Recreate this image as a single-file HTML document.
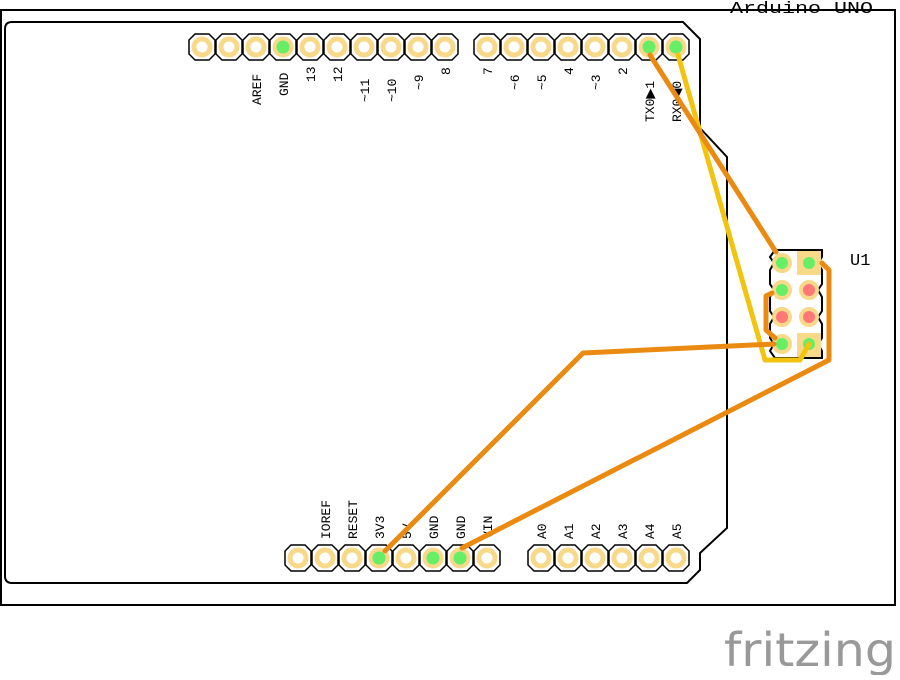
<!DOCTYPE html>
<html><head><style>
body{margin:0;background:#fff;width:900px;height:675px;overflow:hidden}
text{font-family:"Liberation Mono",monospace}
</style></head><body>
<svg width="900" height="675" viewBox="0 0 900 675">
<defs>
<g id="pin"><polygon points="-7,-13 7,-13 13,-7 13,7 7,13 -7,13 -13,7 -13,-7" fill="#fff" stroke="#000" stroke-width="1.5"/><circle r="8" fill="none" stroke="#f8d98a" stroke-width="5"/></g>
<g id="gpin"><polygon points="-7,-13 7,-13 13,-7 13,7 7,13 -7,13 -13,7 -13,-7" fill="#fff" stroke="#000" stroke-width="1.5"/><circle r="8" fill="#bfe98f" stroke="#f8d98a" stroke-width="5"/><circle r="6.5" fill="#66ee66"/></g>
</defs>
<rect x="1" y="10" width="894" height="595" fill="none" stroke="#000" stroke-width="2"/>
<text x="730" y="13" font-size="17" textLength="143" lengthAdjust="spacingAndGlyphs" fill="#000">Arduino UNO</text>
<path d="M12,22 L683,22 L700,39 L700,128 L727,157 L727,528 L700,553 L700,570 L687,583 L12,583 Q5,583 5,576 L5,29 Q5,22 12,22 Z" fill="none" stroke="#000" stroke-width="2"/>
<g>
<use href="#pin" x="202" y="47"/><use href="#pin" x="229" y="47"/><use href="#pin" x="256" y="47"/><use href="#gpin" x="283" y="47"/><use href="#pin" x="310" y="47"/><use href="#pin" x="337" y="47"/><use href="#pin" x="364" y="47"/><use href="#pin" x="391" y="47"/><use href="#pin" x="418" y="47"/><use href="#pin" x="445" y="47"/>
<use href="#pin" x="487" y="47"/><use href="#pin" x="514" y="47"/><use href="#pin" x="541" y="47"/><use href="#pin" x="568" y="47"/><use href="#pin" x="595" y="47"/><use href="#pin" x="622" y="47"/><use href="#gpin" x="649" y="47"/><use href="#gpin" x="676" y="47"/>
<use href="#pin" x="298" y="558"/><use href="#pin" x="325" y="558"/><use href="#pin" x="352" y="558"/><use href="#gpin" x="379" y="558"/><use href="#pin" x="406" y="558"/><use href="#gpin" x="433" y="558"/><use href="#gpin" x="460" y="558"/><use href="#pin" x="487" y="558"/>
<use href="#pin" x="541" y="558"/><use href="#pin" x="568" y="558"/><use href="#pin" x="595" y="558"/><use href="#pin" x="622" y="558"/><use href="#pin" x="649" y="558"/><use href="#pin" x="676" y="558"/>
</g>
<g font-size="13" fill="#000">
<text transform="translate(261,105) rotate(-90)">AREF</text>
<text transform="translate(288,96) rotate(-90)">GND</text>
<text transform="translate(315,82) rotate(-90)">13</text>
<text transform="translate(342,82) rotate(-90)">12</text>
<text transform="translate(369,102) rotate(-90)">~11</text>
<text transform="translate(396,102) rotate(-90)">~10</text>
<text transform="translate(423,90) rotate(-90)">~9</text>
<text transform="translate(450,75) rotate(-90)">8</text>
<text transform="translate(492,75) rotate(-90)">7</text>
<text transform="translate(519,90) rotate(-90)">~6</text>
<text transform="translate(546,90) rotate(-90)">~5</text>
<text transform="translate(573,75) rotate(-90)">4</text>
<text transform="translate(600,90) rotate(-90)">~3</text>
<text transform="translate(627,75) rotate(-90)">2</text>
<text transform="translate(654,122) rotate(-90)">TX0▶1</text>
<text transform="translate(681,122) rotate(-90)">RX0◀0</text>
<text transform="translate(330,539) rotate(-90)">IOREF</text>
<text transform="translate(357,539) rotate(-90)">RESET</text>
<text transform="translate(384,539) rotate(-90)">3V3</text>
<text transform="translate(411,539) rotate(-90)">5V</text>
<text transform="translate(438,539) rotate(-90)">GND</text>
<text transform="translate(465,539) rotate(-90)">GND</text>
<text transform="translate(492,539) rotate(-90)">VIN</text>
<text transform="translate(546,539) rotate(-90)">A0</text>
<text transform="translate(573,539) rotate(-90)">A1</text>
<text transform="translate(600,539) rotate(-90)">A2</text>
<text transform="translate(627,539) rotate(-90)">A3</text>
<text transform="translate(654,539) rotate(-90)">A4</text>
<text transform="translate(681,539) rotate(-90)">A5</text>
</g>
<text x="850" y="265" font-size="17" fill="#000">U1</text>
<path d="M775,250 L822,250 L822,257 L818,263 L822,270 L822,284 L818,290 L822,297 L822,311 L818,317 L822,324 L822,338 L818,344 L822,351 L822,358 L775,358 L770,351 L774,344 L770,338 L770,324 L774,317 L770,311 L770,297 L774,290 L770,284 L770,270 L774,263 L770,257 Z" fill="#fff" stroke="#000" stroke-width="2"/>
<polygon points="816,250 822,250 822,256" fill="#000"/>
<rect x="797" y="251" width="24" height="24" fill="#f8d98a"/>
<rect x="797" y="333" width="24" height="24" fill="#f8d98a"/>
<g stroke="#f8d98a" stroke-width="4">
<circle cx="782" cy="263" r="8" fill="#66ee66"/><circle cx="809" cy="263" r="8" fill="#66ee66"/>
<circle cx="782" cy="290" r="8" fill="#66ee66"/><circle cx="809" cy="290" r="8" fill="#f77"/>
<circle cx="782" cy="317" r="8" fill="#f77"/><circle cx="809" cy="317" r="8" fill="#f77"/>
<circle cx="782" cy="344" r="8" fill="#66ee66"/><circle cx="809" cy="344" r="8" fill="#66ee66"/>
</g>
<g fill="none" stroke-width="5" stroke-linejoin="round" stroke-linecap="round">
<polyline points="678,55 765,360 800,360 809,344" stroke="#f2c40f"/>
<polyline points="650,55 776,252" stroke="#ea8a10"/>
<polyline points="774,344 583,353 385,551" stroke="#ea8a10"/>
<polyline points="822,263 829,270 829,360 462,548" stroke="#ea8a10"/>
<polyline points="772,293 766,296 766,330 775,338" stroke="#ea8a10"/>
</g>
<text x="724" y="666" font-size="46" textLength="172" lengthAdjust="spacingAndGlyphs" fill="#999" style="font-family:'DejaVu Sans',sans-serif">fritzing</text>
</svg>
</body></html>
